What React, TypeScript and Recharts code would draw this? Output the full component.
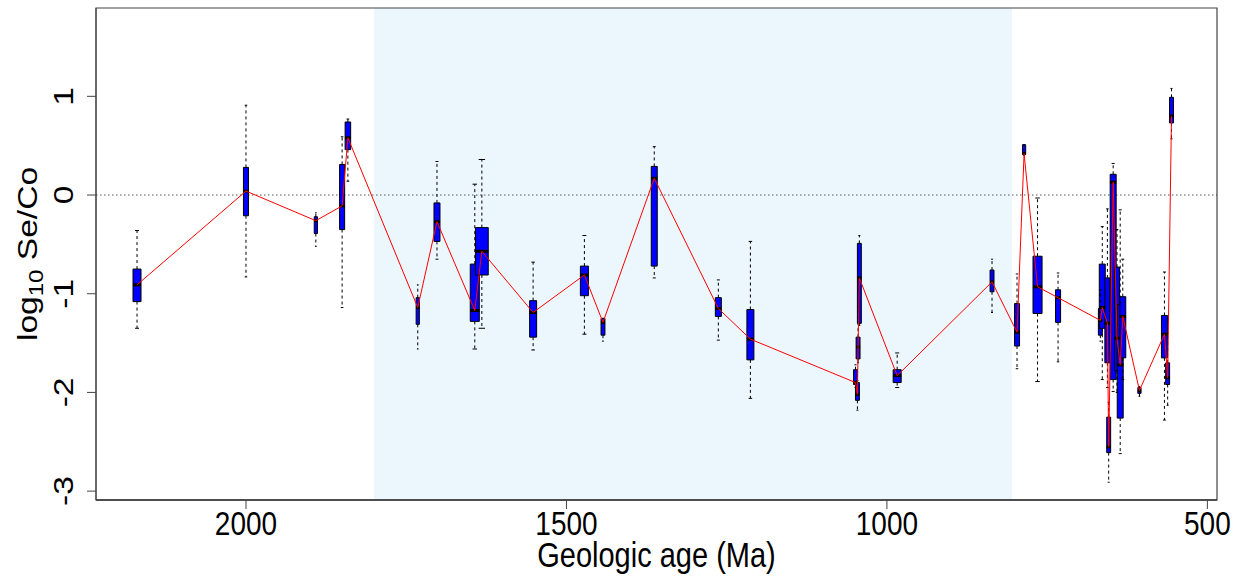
import React from "react";
import { ComposedChart, Line, XAxis, YAxis, ReferenceArea, ReferenceLine } from "recharts";

// ── Data ───────────────────────────────────────────────────────────
// one boxplot per locality, ordered from oldest to youngest

const AGES = [2170, 2000, 1891, 1850, 1841, 1732, 1702, 1643, 1632, 1552, 1472, 1443, 1363, 1263, 1213, 1049, 1046, 1045, 1043, 984, 836, 797, 786, 765, 733, 667, 664, 656, 654, 647, 641, 636, 632, 606, 567, 562, 556];
const COUNTS = [25, 10, 4, 10, 12, 4, 14, 32, 64, 19, 25, 6, 14, 14, 19, 6, 6, 6, 6, 25, 6, 10, 4, 32, 10, 6, 14, 10, 6, 14, 10, 14, 14, 4, 14, 6, 6];
const WHISK_LO = [-1.35, -0.83, -0.52, -1.14, 0.14, -1.56, -0.65, -1.56, -1.35, -1.57, -1.41, -1.48, -0.84, -1.47, -2.06, -1.95, -2.18, -1.7, -1.32, -1.95, -1.19, -1.76, 0.4, -1.89, -1.69, -1.48, -1.87, -1.95, -2.91, -1.99, -2.0, -2.62, -1.87, -2.04, -2.28, -2.13, 0.57];
const Q1 = [-1.08, -0.21, -0.39, -0.35, 0.46, -1.31, -0.47, -1.28, -0.81, -1.44, -1.02, -1.42, -0.72, -1.23, -1.67, -1.92, -2.08, -1.66, -1.3, -1.9, -0.98, -1.53, 0.41, -1.2, -1.29, -1.42, -1.35, -1.7, -2.61, -1.87, -1.78, -2.26, -1.65, -2.01, -1.65, -1.92, 0.73];
const MEDIAN = [-0.91, 0.04, -0.26, -0.11, 0.58, -1.14, -0.27, -1.17, -0.57, -1.19, -0.81, -1.29, 0.17, -1.15, -1.46, -1.9, -2.02, -1.54, -0.84, -1.83, -0.88, -1.39, 0.42, -0.93, -1.04, -1.27, -1.14, -1.3, -2.55, 0.13, -1.45, -1.72, -1.23, -1.98, -1.41, -1.85, 0.8];
const Q3 = [-0.75, 0.28, -0.22, 0.31, 0.74, -1.04, -0.08, -0.7, -0.33, -1.07, -0.72, -1.25, 0.29, -1.04, -1.16, -1.77, -1.9, -1.44, -0.49, -1.77, -0.76, -1.1, 0.51, -0.62, -0.96, -1.15, -0.7, -0.84, -2.25, 0.21, -0.73, -1.11, -1.03, -1.95, -1.22, -1.7, 0.99];
const WHISK_HI = [-0.36, 0.91, -0.18, 0.59, 0.77, -0.91, 0.34, 0.11, 0.36, -0.68, -0.41, -1.25, 0.49, -0.86, -0.47, -1.72, -1.88, -1.13, -0.41, -1.6, -0.65, -0.8, 0.51, -0.03, -0.79, -0.96, -0.32, -0.14, -2.1, 0.32, -0.35, -0.15, -0.65, -1.94, -0.78, -1.4, 1.08];

const X_TICKS = [2000, 1500, 1000, 500];
const Y_TICKS = [-3, -2, -1, 0, 1];
const X_DOMAIN: [number, number] = [485, 2234];
const Y_DOMAIN: [number, number] = [-3.09, 1.895];
const SHADE_FROM = 1800;
const SHADE_TO = 805;

// ── Style ──────────────────────────────────────────────────────────

const FONT = "'Liberation Sans', Arial, Helvetica, sans-serif";
const STRETCH = 1.2; // the reference text is drawn tall and narrow
const HALF_PER_SQRT_N = 1.25; // varwidth boxes, half width in Ma per sqrt(n)

const rows = AGES.map((age, i) => ({
  age,
  half: HALF_PER_SQRT_N * Math.sqrt(COUNTS[i]),
  lo: WHISK_LO[i],
  q1: Q1[i],
  med: MEDIAN[i],
  q3: Q3[i],
  hi: WHISK_HI[i],
}));

// eslint-disable-next-line @typescript-eslint/no-explicit-any
function XTick(props: any) {
  const { x, y, payload } = props;
  return (
    <text transform={`translate(${x},${y}) scale(1,${STRETCH})`} y={18} textAnchor="middle" fontSize={28} fontFamily={FONT} fill="#000">
      {payload.value}
    </text>
  );
}

// eslint-disable-next-line @typescript-eslint/no-explicit-any
function YTick(props: any) {
  const { x, y, payload } = props;
  return (
    <text transform={`translate(${x},${y}) scale(1,${STRETCH}) rotate(-90)`} textAnchor="middle" fontSize={28} fontFamily={FONT} fill="#000">
      {String(payload.value)}
    </text>
  );
}

// eslint-disable-next-line @typescript-eslint/no-explicit-any
function XTitle(props: any) {
  const vb = props.viewBox ?? { x: 96, y: 500, width: 1121, height: 76 };
  const cx = vb.x + vb.width / 2;
  return (
    <text transform={`translate(${cx},${vb.y + 67}) scale(1,${STRETCH})`} textAnchor="middle" fontSize={29} fontFamily={FONT} fill="#000">
      Geologic age (Ma)
    </text>
  );
}

// eslint-disable-next-line @typescript-eslint/no-explicit-any
function YTitle(props: any) {
  const vb = props.viewBox ?? { x: 0, y: 8, width: 96, height: 492 };
  const cy = vb.y + vb.height / 2;
  return (
    <text transform={`translate(${vb.x + 37},${cy}) scale(1,${STRETCH}) rotate(-90)`} textAnchor="middle" fontSize={28} fontFamily={FONT} fill="#000">
      log<tspan fontSize={20} dy={6}>10</tspan>
      <tspan dy={-6}> Se/Co</tspan>
    </text>
  );
}

export default function App() {
  return (
    <div style={{ position: "absolute", left: 0, top: 0, background: "#fff" }}>
      <ComposedChart width={1237} height={576} data={rows} margin={{ top: 8, right: 20, bottom: 0, left: 0 }}>
        <XAxis
          dataKey="age"
          type="number"
          domain={X_DOMAIN}
          reversed
          allowDataOverflow
          ticks={X_TICKS}
          height={76}
          tickSize={9}
          tickMargin={4}
          tick={XTick}
          tickLine={{ stroke: "#444" }}
          axisLine={{ stroke: "#333", strokeWidth: 1.5 }}
          label={<XTitle />}
        />
        <YAxis
          type="number"
          domain={Y_DOMAIN}
          allowDataOverflow
          ticks={Y_TICKS}
          width={96}
          tickSize={9}
          tickMargin={14}
          tick={YTick}
          tickLine={{ stroke: "#444" }}
          axisLine={{ stroke: "#444" }}
          label={<YTitle />}
        />

        {/* shaded interval */}
        <ReferenceArea x1={SHADE_FROM} x2={SHADE_TO} fill="#ebf6fd" fillOpacity={1} stroke="none" zIndex={40} />
        <ReferenceLine y={0} stroke="#555" strokeDasharray="1.5 2.5" zIndex={50} />

        {/* whiskers and staples */}
        {rows.map((r, i) => [
          <ReferenceLine key={`wu${i}`} segment={[{ x: r.age, y: r.q3 }, { x: r.age, y: r.hi }]} stroke="#000" strokeDasharray="3 3" />,
          <ReferenceLine key={`wl${i}`} segment={[{ x: r.age, y: r.q1 }, { x: r.age, y: r.lo }]} stroke="#000" strokeDasharray="3 3" />,
          <ReferenceLine key={`su${i}`} segment={[{ x: r.age - r.half / 2, y: r.hi }, { x: r.age + r.half / 2, y: r.hi }]} stroke="#000" />,
          <ReferenceLine key={`sl${i}`} segment={[{ x: r.age - r.half / 2, y: r.lo }, { x: r.age + r.half / 2, y: r.lo }]} stroke="#000" />,
        ])}

        {/* boxes */}
        {rows.map((r, i) => (
          <ReferenceArea key={`b${i}`} x1={r.age - r.half} x2={r.age + r.half} y1={r.q1} y2={r.q3} fill="#0000ff" fillOpacity={1} stroke="#000" strokeWidth={1} />
        ))}

        {/* medians */}
        {rows.map((r, i) => (
          <ReferenceLine key={`m${i}`} segment={[{ x: r.age - r.half, y: r.med }, { x: r.age + r.half, y: r.med }]} stroke="#000" strokeWidth={3} />
        ))}

        {/* plot frame */}
        <ReferenceArea x1={X_DOMAIN[0]} x2={X_DOMAIN[1]} y1={Y_DOMAIN[0]} y2={Y_DOMAIN[1]} fill="none" stroke="#444" strokeWidth={1.2} />

        <Line dataKey="med" type="linear" stroke="#ff0000" strokeWidth={1} dot={false} activeDot={false} isAnimationActive={false} />
      </ComposedChart>
    </div>
  );
}
